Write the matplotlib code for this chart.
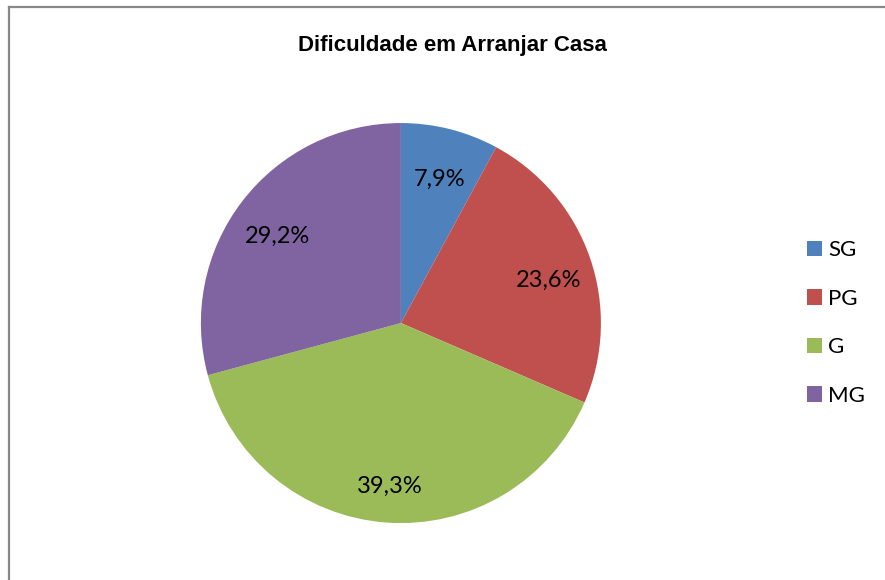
import matplotlib
matplotlib.use("Agg")
import matplotlib.pyplot as plt
from matplotlib.lines import Line2D
import matplotlib.transforms as mtransforms

categorias = ['SG', 'PG', 'G', 'MG']
percentuais = [7.9, 23.6, 39.3, 29.2]
cores = ['#4F81BD', '#C0504D', '#9BBB59', '#8064A2']

plt.rcParams['font.family'] = ['Lato', 'DejaVu Sans']

fig = plt.figure(figsize=(8.85, 5.8), dpi=100)
ax = fig.add_axes([0.227, 0.098, 0.452, 0.690])

fatias, textos, pct = ax.pie(percentuais, colors=cores, startangle=90, counterclock=False,
                              autopct=lambda p: ('%.1f%%' % p).replace('.', ','),
                              pctdistance=0.78)
desloc = mtransforms.offset_copy(ax.transData, fig=fig, x=0, y=-8, units='dots')
for t in pct:
    t.set_fontsize(17)
    t.set_transform(desloc)
ax.set_xlim(-1, 1)
ax.set_ylim(-1, 1)
ax.set_aspect('equal')

fig.text(0.511, 0.921, 'Dificuldade em Arranjar Casa', ha='center', va='center',
         fontsize=16, fontweight='bold', family=['Liberation Sans Narrow', 'Liberation Sans'])

fig.legend(fatias, categorias, loc='center left', bbox_to_anchor=(0.899, 0.443),
           frameon=False, fontsize=16, borderpad=0, handlelength=0.7, handleheight=0.7,
           handletextpad=0.25, labelspacing=1.28)

# moldura do gráfico (só esquerda e topo visíveis)
fig.add_artist(Line2D([9/885, 9/885], [0, 1 - 7/580], transform=fig.transFigure, color='#888888', lw=1.6))
fig.add_artist(Line2D([9/885, 1], [1 - 7/580, 1 - 7/580], transform=fig.transFigure, color='#888888', lw=1.6))

fig.savefig('out.png', dpi=100)
